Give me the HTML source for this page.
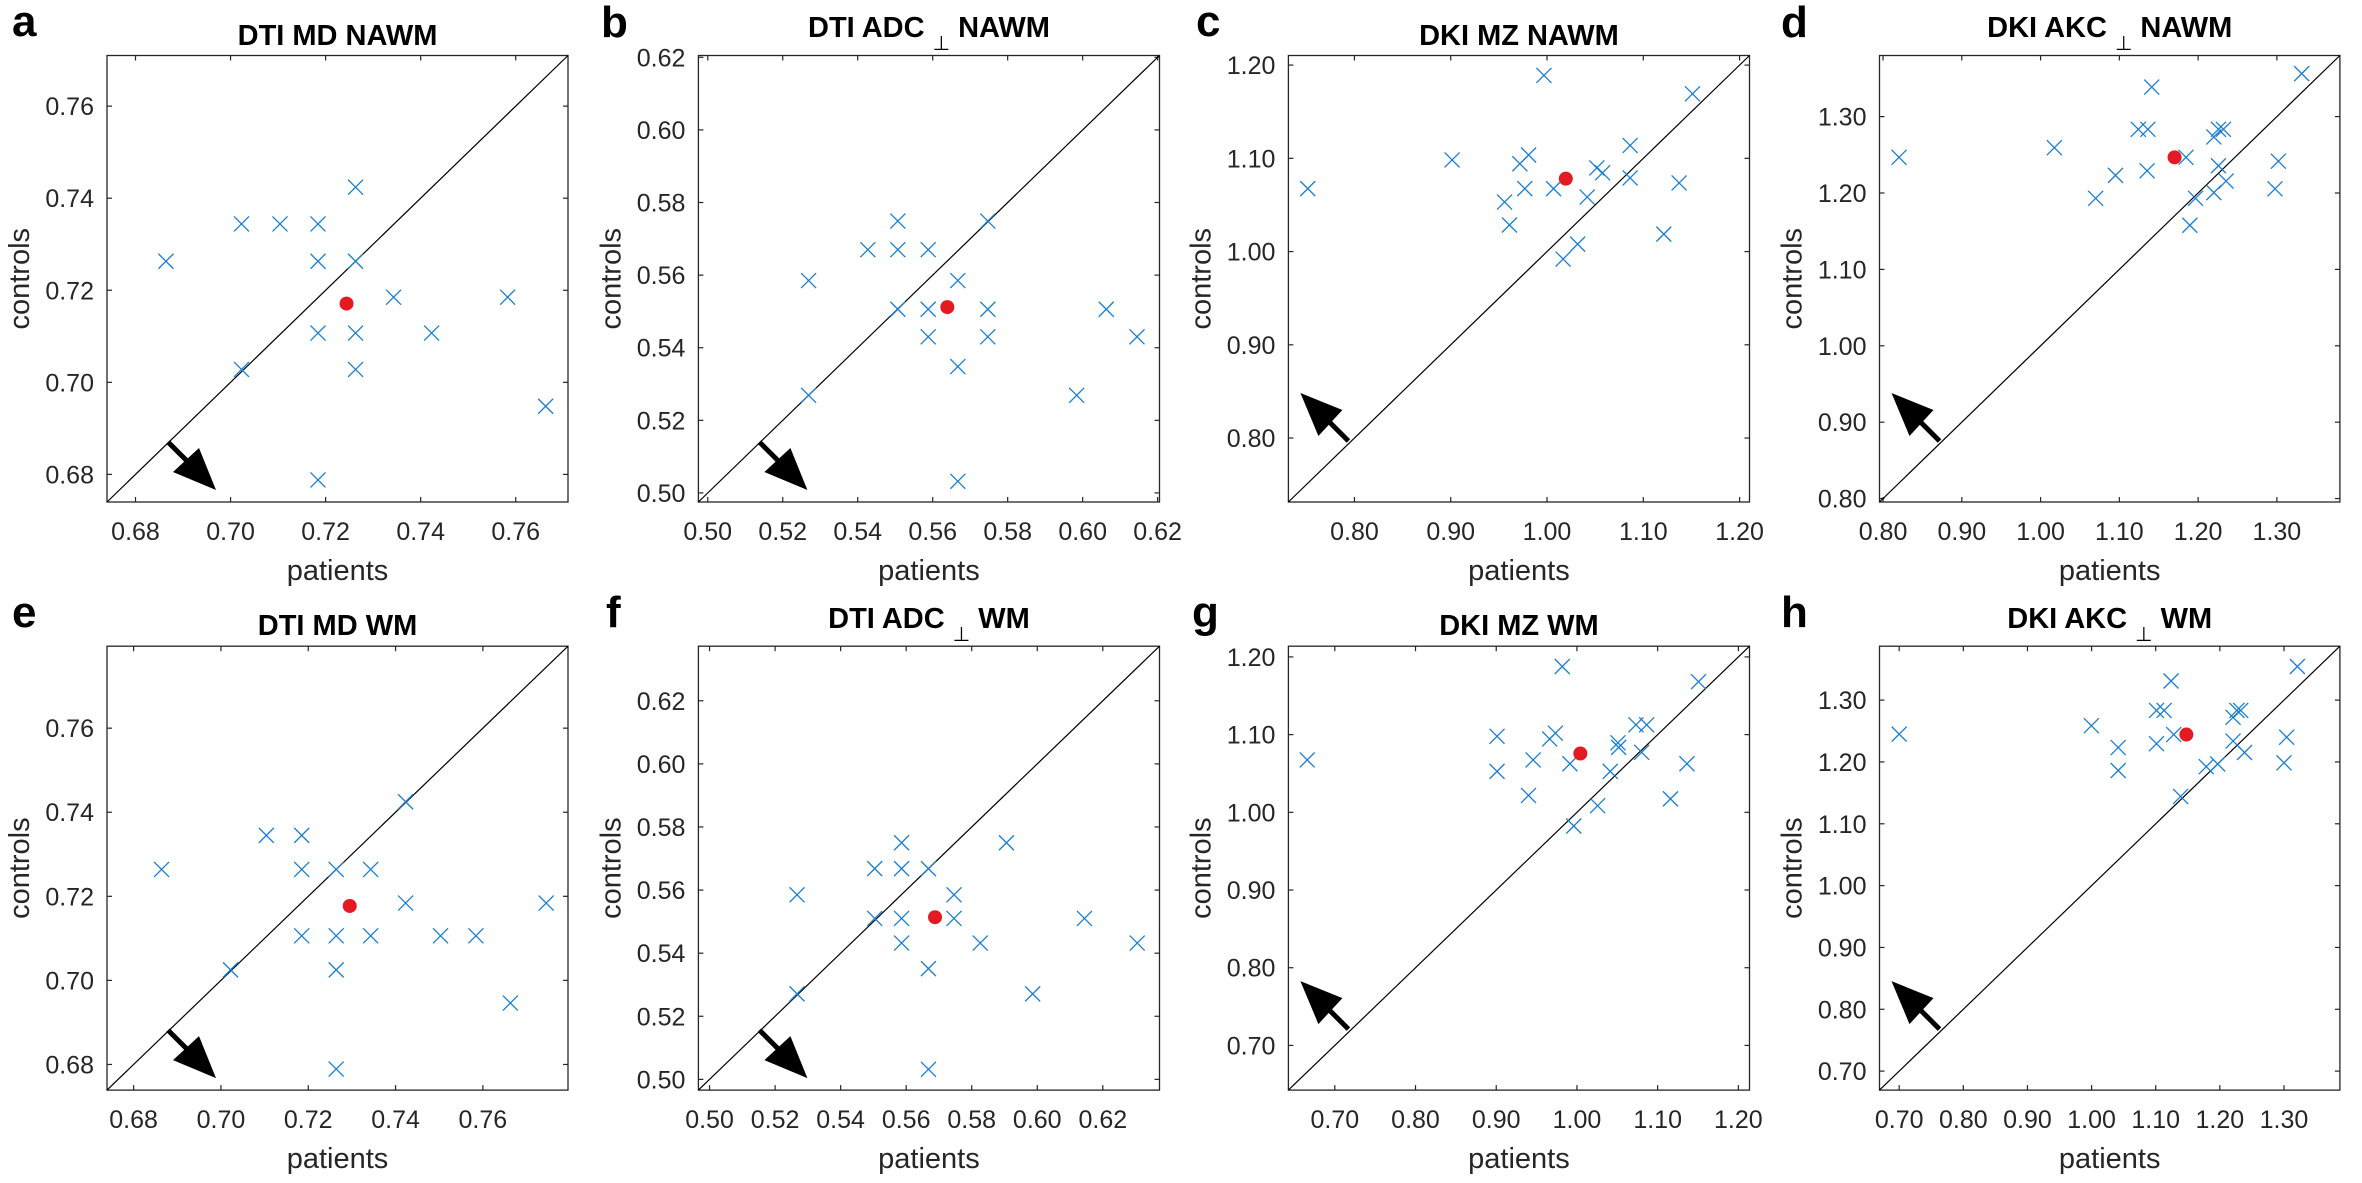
<!DOCTYPE html>
<html><head><meta charset="utf-8"><style>
html,body{margin:0;padding:0;background:#fff;}
svg{display:block;}
text{font-family:"Liberation Sans",Arial,sans-serif;}
</style></head><body>
<svg id="fig" width="2362" height="1183" viewBox="0 0 2362 1183" xmlns="http://www.w3.org/2000/svg"></svg>
<script>
// ---------- data ----------
const aPatients = [0.6864,0.7023,0.7104,0.7184,0.7184,0.7263,0.7263,0.7023,0.7184,0.7263,0.7263,0.7343,0.7423,0.7583,0.7663,0.7184];
const aControls = [0.7263,0.7344,0.7344,0.7344,0.7263,0.7424,0.7263,0.7028,0.7107,0.7107,0.7028,0.7185,0.7107,0.7185,0.6948,0.6788];
const aMean = [0.7244,0.7171];
const aTicks = [0.68,0.70,0.72,0.74,0.76];
const aTickLabels = ["0.68","0.70","0.72","0.74","0.76"];

const bPatients = [0.5269,0.5427,0.5507,0.5507,0.5588,0.5747,0.5269,0.5507,0.5588,0.5667,0.5747,0.5588,0.5747,0.5667,0.5667,0.5984,0.6063,0.6145];
const bControls = [0.5585,0.5670,0.5670,0.5749,0.5670,0.5749,0.5269,0.5506,0.5506,0.5585,0.5506,0.5430,0.5430,0.5348,0.5032,0.5269,0.5506,0.5430];
const bMean = [0.5639,0.5512];
const bTicks = [0.50,0.52,0.54,0.56,0.58,0.60,0.62];
const bTickLabels = ["0.50","0.52","0.54","0.56","0.58","0.60","0.62"];

const cPatients = [0.7515,0.9014,0.9968,0.9718,0.9809,0.9769,0.9559,0.9610,1.0068,1.0417,1.0517,1.0577,1.0167,1.0318,1.0863,1.0863,1.1372,1.1213,1.1511];
const cControls = [1.0675,1.0983,1.1889,1.0942,1.1036,1.0675,1.0531,1.0285,1.0675,1.0585,1.0897,1.0845,0.9920,1.0080,1.1138,1.0790,1.0736,1.0187,1.1692];
const cMean = [1.0195,1.0782];
const cTicks = [0.80,0.90,1.00,1.10,1.20];
const cTickLabels = ["0.80","0.90","1.00","1.10","1.20"];

const dPatients = [0.8203,1.0175,1.0951,1.0699,1.1411,1.1241,1.1362,1.1352,1.1846,1.2200,1.2258,1.2321,1.2258,1.2355,1.2200,1.1967,1.1895,1.2976,1.3019,1.3315];
const dControls = [1.2467,1.2593,1.2231,1.1930,1.3387,1.2834,1.2834,1.2291,1.2467,1.2734,1.2834,1.2834,1.2357,1.2156,1.2005,1.1930,1.1578,1.2055,1.2417,1.3563];
const dMean = [1.1701,1.2467];
const dTicks = [0.80,0.90,1.00,1.10,1.20,1.30];
const dTickLabels = ["0.80","0.90","1.00","1.10","1.20","1.30"];

const ePatients = [0.6864,0.7104,0.7185,0.7185,0.7264,0.7343,0.7423,0.7423,0.7745,0.7185,0.7264,0.7343,0.7503,0.7584,0.7022,0.7264,0.7663,0.7264];
const eControls = [0.7264,0.7345,0.7345,0.7264,0.7264,0.7264,0.7425,0.7184,0.7184,0.7106,0.7106,0.7106,0.7106,0.7106,0.7025,0.7025,0.6946,0.6789];
const eMean = [0.7295,0.7177];
const eTicks = [0.68,0.70,0.72,0.74,0.76];
const eTickLabels = ["0.68","0.70","0.72","0.74","0.76"];

const fPatients = [0.5267,0.5267,0.5504,0.5586,0.5586,0.5668,0.5746,0.5504,0.5586,0.5746,0.5586,0.5668,0.5826,0.5906,0.5986,0.6144,0.6305,0.5668];
const fControls = [0.5585,0.5271,0.5668,0.5668,0.5750,0.5668,0.5585,0.5510,0.5510,0.5510,0.5432,0.5351,0.5432,0.5750,0.5271,0.5510,0.5432,0.5032];
const fMean = [0.5688,0.5514];
const fTicks = [0.50,0.52,0.54,0.56,0.58,0.60,0.62];
const fTickLabels = ["0.50","0.52","0.54","0.56","0.58","0.60","0.62"];

const gPatients = [0.6658,0.9010,0.9010,0.9818,0.9733,0.9662,0.9457,0.9400,0.9913,0.9961,1.0256,1.0413,1.0508,1.0517,1.0731,1.0864,1.0802,1.1363,1.1159,1.1506];
const gControls = [1.0674,1.0978,1.0527,1.1877,1.1018,1.0944,1.0674,1.0217,1.0625,0.9824,1.0085,1.0527,1.0895,1.0836,1.1126,1.1126,1.0772,1.0625,1.0173,1.1681];
const gMean = [1.0042,1.0757];
const gTicks = [0.70,0.80,0.90,1.00,1.10,1.20];
const gTickLabels = ["0.70","0.80","0.90","1.00","1.10","1.20"];

const hPatients = [0.7000,0.9997,1.0415,1.0415,1.1239,1.1012,1.1131,1.1012,1.1281,1.1388,1.1788,1.1967,1.2206,1.2206,1.2266,1.2325,1.2385,1.3000,1.3042,1.3209];
const hControls = [1.2450,1.2586,1.2233,1.1862,1.3309,1.2833,1.2833,1.2295,1.2443,1.1442,1.1924,1.1967,1.2338,1.2722,1.2833,1.2833,1.2153,1.1986,1.2400,1.3544];
const hMean = [1.1478,1.2443];
const hTicks = [0.70,0.80,0.90,1.00,1.10,1.20,1.30];
const hTickLabels = ["0.70","0.80","0.90","1.00","1.10","1.20","1.30"];

// axis limits per panel
const aLim = [0.6740,0.7710];
const bLim = [0.4975,0.6205];
const cLim = [0.7314,1.2103];
const dLim = [0.7955,1.3800];
const eLim = [0.6739,0.7795];
const fLim = [0.4966,0.6373];
const gLim = [0.6425,1.2138];
const hLim = [0.6693,1.3872];

// ---------- layout ----------
const NS = "http://www.w3.org/2000/svg";
const svg = document.getElementById("fig");
function mk(tag, attrs, parent) {
  const e = document.createElementNS(NS, tag);
  for (const k in attrs) e.setAttribute(k, attrs[k]);
  (parent || svg).appendChild(e);
  return e;
}
const cols = [[107,568],[698.4,1159.5],[1288.4,1749.5],[1879.5,2339.9]];
const rows = [[55.5,502],[646.2,1090.1]];

const panels = [
  {id:"a", title:["DTI MD NAWM"], px:aPatients, py:aControls, mean:aMean, ticks:aTicks, labels:aTickLabels, lim:aLim, col:0, row:0, dir:"down", letter:[12,36], tb:45},
  {id:"b", title:["DTI ADC","NAWM"], px:bPatients, py:bControls, mean:bMean, ticks:bTicks, labels:bTickLabels, lim:bLim, col:1, row:0, dir:"down", letter:[601,37], tb:37},
  {id:"c", title:["DKI MZ NAWM"], px:cPatients, py:cControls, mean:cMean, ticks:cTicks, labels:cTickLabels, lim:cLim, col:2, row:0, dir:"up", letter:[1196,36], tb:45},
  {id:"d", title:["DKI AKC","NAWM"], px:dPatients, py:dControls, mean:dMean, ticks:dTicks, labels:dTickLabels, lim:dLim, col:3, row:0, dir:"up", letter:[1781,37], tb:37},
  {id:"e", title:["DTI MD WM"], px:ePatients, py:eControls, mean:eMean, ticks:eTicks, labels:eTickLabels, lim:eLim, col:0, row:1, dir:"down", letter:[12,627], tb:635},
  {id:"f", title:["DTI ADC","WM"], px:fPatients, py:fControls, mean:fMean, ticks:fTicks, labels:fTickLabels, lim:fLim, col:1, row:1, dir:"down", letter:[606,627], tb:628},
  {id:"g", title:["DKI MZ WM"], px:gPatients, py:gControls, mean:gMean, ticks:gTicks, labels:gTickLabels, lim:gLim, col:2, row:1, dir:"up", letter:[1192,627], tb:635},
  {id:"h", title:["DKI AKC","WM"], px:hPatients, py:hControls, mean:hMean, ticks:hTicks, labels:hTickLabels, lim:hLim, col:3, row:1, dir:"up", letter:[1781,627], tb:628}
];

panels.forEach(p => {
  const L = cols[p.col][0], R = cols[p.col][1], T = rows[p.row][0], B = rows[p.row][1];
  const sx = v => L + (v - p.lim[0]) / (p.lim[1] - p.lim[0]) * (R - L);
  const sy = v => B - (v - p.lim[0]) / (p.lim[1] - p.lim[0]) * (B - T);
  const g = mk("g", {});
  
  

  const letter = mk("text", {x:p.letter[0], y:p.letter[1], "font-size":44, "font-weight":"bold", fill:"#000"}, g);
  letter.textContent = p.id;
  
  

  const cx = (L + R) / 2;
  const title = mk("text", {x:cx, y:p.tb, "font-size":29, "font-weight":"bold", "text-anchor":"middle", fill:"#000"}, g);
  
  
  if (p.title.length === 1) {
    title.textContent = p.title[0];
  } else {
    const t1 = mk("tspan", {}, title); t1.textContent = p.title[0] + " ";
    const t2 = mk("tspan", {dy:13, "font-size":20, "font-weight":"normal"}, title); t2.textContent = "\u22A5";
    const t3 = mk("tspan", {dy:-13}, title); t3.textContent = " " + p.title[1];
  }

  // box
  const box = mk("rect", {x:L, y:T, width:R-L, height:B-T, fill:"none", stroke:"#262626", "stroke-width":1.3}, g);
  
  

  // ticks
  p.ticks.forEach((t, i) => {
    const X = sx(t), Y = sy(t);
    mk("line", {x1:X, y1:B, x2:X, y2:B-5, stroke:"#262626", "stroke-width":1.2}, g);
    mk("line", {x1:X, y1:T, x2:X, y2:T+5, stroke:"#262626", "stroke-width":1.2}, g);
    mk("line", {x1:L, y1:Y, x2:L+5, y2:Y, stroke:"#262626", "stroke-width":1.2}, g);
    mk("line", {x1:R, y1:Y, x2:R-5, y2:Y, stroke:"#262626", "stroke-width":1.2}, g);
    const xl = mk("text", {x:X, y:B+38, "font-size":25, "text-anchor":"middle", fill:"#262626"}, g);
    xl.textContent = p.labels[i];
    
    
    const yl = mk("text", {x:L-13, y:Y+9, "font-size":25, "text-anchor":"end", fill:"#262626"}, g);
    yl.textContent = p.labels[i];
    
    
  });

  const xt = mk("text", {x:cx, y:B+78, "font-size":29, "text-anchor":"middle", fill:"#262626"}, g);
  xt.textContent = "patients";
  
  
  const cy = (T + B) / 2;
  const yt = mk("text", {x:L-78, y:cy, "font-size":29, "text-anchor":"middle", fill:"#262626", transform:"rotate(-90 " + (L-78) + " " + cy + ")"}, g);
  yt.textContent = "controls";
  
  

  // identity line
  const diag = mk("line", {x1:sx(p.lim[0]), y1:sy(p.lim[0]), x2:sx(p.lim[1]), y2:sy(p.lim[1]), stroke:"#000", "stroke-width":1.2}, g);
  
  

  // arrow annotation (offsets relative to bottom-left corner)
  let pts = {tail:[61,-60], shaftEnd:[84,-37], tip:[109,-12], c1:[66,-30], c2:[92,-54]};
  if (p.dir === "up") {
    const f = v => [-v[1], -v[0]];
    pts = {tail:f(pts.tail), shaftEnd:f(pts.shaftEnd), tip:f(pts.tip), c1:f(pts.c1), c2:f(pts.c2)};
  }
  const P = v => (L + v[0]) + "," + (B + v[1]);
  const arrow = mk("g", {}, g);
  
  
  mk("line", {x1:L+pts.tail[0], y1:B+pts.tail[1], x2:L+pts.shaftEnd[0], y2:B+pts.shaftEnd[1], stroke:"#000", "stroke-width":5}, arrow);
  mk("polygon", {points:[P(pts.tip), P(pts.c1), P(pts.c2)].join(" "), fill:"#000"}, arrow);

  // subject markers
  p.px.forEach((v, i) => {
    const X = sx(v), Y = sy(p.py[i]), s = 7.5;
    const m = mk("path", {d:"M"+(X-s)+","+(Y-s)+"L"+(X+s)+","+(Y+s)+"M"+(X-s)+","+(Y+s)+"L"+(X+s)+","+(Y-s), stroke:"#1a7fd4", "stroke-width":1.3, fill:"none"}, g);
    
    
  });
  const mean = mk("circle", {cx:sx(p.mean[0]), cy:sy(p.mean[1]), r:7, fill:"#e31a22"}, g);
  
  
});
</script>
</body></html>
